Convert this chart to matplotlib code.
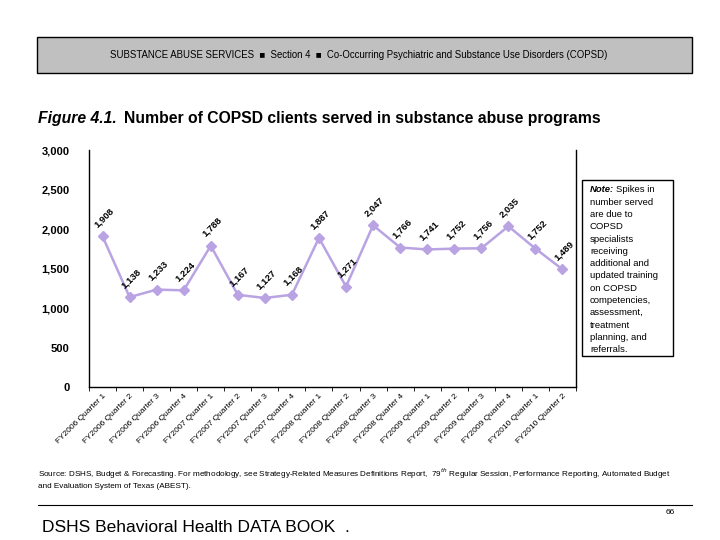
import matplotlib.pyplot as plt
from matplotlib.patches import Rectangle
from matplotlib.lines import Line2D

quarters = ['FY2006 Quarter 1', 'FY2006 Quarter 2', 'FY2006 Quarter 3', 'FY2006 Quarter 4',
            'FY2007 Quarter 1', 'FY2007 Quarter 2', 'FY2007 Quarter 3', 'FY2007 Quarter 4',
            'FY2008 Quarter 1', 'FY2008 Quarter 2', 'FY2008 Quarter 3', 'FY2008 Quarter 4',
            'FY2009 Quarter 1', 'FY2009 Quarter 2', 'FY2009 Quarter 3', 'FY2009 Quarter 4',
            'FY2010 Quarter 1', 'FY2010 Quarter 2']
clients = [1908, 1138, 1233, 1224, 1788, 1167, 1127, 1168, 1887,
           1271, 2047, 1766, 1741, 1752, 1756, 2035, 1752, 1489]
yticks = [0, 500, 1000, 1500, 2000, 2500, 3000]

plt.rcParams['font.family'] = ['Liberation Sans', 'DejaVu Sans']
purple = '#B9A3E3'

fig = plt.figure(figsize=(7.2, 5.4), dpi=100)

# header band
fig.patches.append(Rectangle((0.0514, 0.8648), 0.9097, 0.0667, transform=fig.transFigure,
                             facecolor='#C0C0C0', edgecolor='black', lw=1))
fig.text(0.498, 0.898, 'SUBSTANCE ABUSE SERVICES  \u25a0  Section 4  \u25a0  Co-Occurring Psychiatric and Substance Use Disorders (COPSD)',
         ha='center', va='center', fontsize=6.9)

# title
fig.text(0.053, 0.781, 'Figure 4.1.', fontsize=11.3, fontweight='bold', style='italic', va='center')
fig.text(0.172, 0.781, 'Number of COPSD clients served in substance abuse programs',
         fontsize=11.3, fontweight='bold', va='center')

ax = fig.add_axes([0.1236, 0.2833, 0.6764, 0.4389])
x = list(range(len(clients)))
ax.plot(x, clients, color=purple, lw=1.8, marker='D', markersize=5,
        markerfacecolor=purple, markeredgecolor=purple)
for xi, v in zip(x, clients):
    ax.annotate(f'{v:,}', (xi, v), xytext=(1, 5), textcoords='offset points',
                ha='center', va='bottom', rotation=45, fontsize=6.8, fontweight='bold')

ax.set_xlim(-0.5, len(clients) - 0.5)
ax.set_ylim(0, 3000)
ax.set_yticks(yticks)
ax.set_yticklabels([f'{t:,}' for t in yticks], fontsize=8, fontweight='bold')
ax.tick_params(axis='y', length=0, pad=14)
ax.set_xticks(x)
ax.set_xticklabels(quarters, rotation=45, ha='right', rotation_mode='anchor', fontsize=6)
ax.tick_params(axis='x', which='major', length=0, pad=4)
ax.set_xticks([i - 0.5 for i in range(len(clients) + 1)], minor=True)
ax.tick_params(axis='x', which='minor', length=3, direction='out')
ax.spines['top'].set_visible(False)
for s in ['left', 'bottom', 'right']:
    ax.spines[s].set_linewidth(1)

# note box
fig.patches.append(Rectangle((0.8083, 0.3407), 0.126, 0.326, transform=fig.transFigure,
                             facecolor='white', edgecolor='black', lw=1))
fig.text(0.8194, 0.657, 'Note:', fontsize=6.8, fontweight='bold', style='italic', va='top')
fig.text(0.8555, 0.657, 'Spikes in', fontsize=6.8, va='top')
fig.text(0.8194, 0.634, 'number served\nare due to\nCOPSD\nspecialists\nreceiving\n'
         'additional and\nupdated training\non COPSD\ncompetencies,\nassessment,\ntreatment\n'
         'planning, and\nreferrals.', fontsize=6.8, va='top', linespacing=1.47)

# footer
fig.text(0.053, 0.114, 'Source: DSHS, Budget & Forecasting. For methodology, see Strategy-Related Measures Definitions Report,  '
         '79$^{th}$ Regular Session, Performance Reporting, Automated Budget\nand Evaluation System of Texas (ABEST).',
         fontsize=5.9, va='center', linespacing=1.5)
fig.lines.append(Line2D([0.053, 0.961], [0.065, 0.065], transform=fig.transFigure, color='black', lw=0.8))
fig.text(0.925, 0.05, '66', fontsize=6, va='center')
fig.text(0.058, 0.024, 'DSHS Behavioral Health DATA BOOK  .', fontsize=12.5, va='center')

fig.savefig('out.png', dpi=100)
